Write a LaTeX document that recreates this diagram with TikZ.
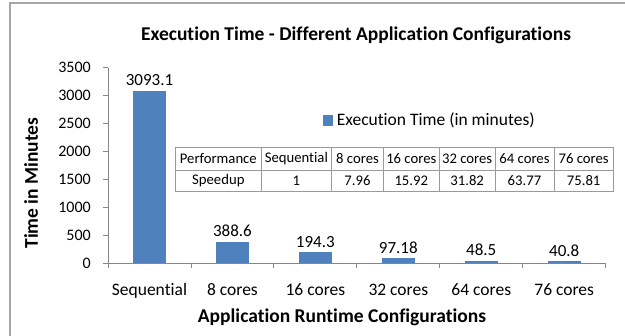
\documentclass[tikz,border=0pt]{standalone}
\usepackage{fontspec}
\setmainfont{Carlito}[Ligatures=NoCommon]
\definecolor{barblue}{HTML}{4F81BD}
\definecolor{axisgray}{HTML}{868686}
\definecolor{framegray}{HTML}{A6A6A6}
\definecolor{tablegray}{HTML}{9A9A9A}
\begin{document}
\begin{tikzpicture}[x=1pt,y=-1pt,
  frame/.style={draw=framegray,line width=1.6pt},
  axisline/.style={draw=axisgray,line width=0.9pt},
  tableline/.style={draw=tablegray,line width=0.8pt},
  bar/.style={fill=barblue},
  ticklab/.style={anchor=east,inner sep=0pt,font=\fontsize{16}{18}\selectfont},
  catlab/.style={anchor=base,inner sep=0pt,font=\fontsize{17.5}{19}\selectfont},
  vallab/.style={anchor=south,inner sep=0pt,font=\fontsize{17}{19}\selectfont},
  cell/.style={inner sep=0pt,font=\fontsize{14.7}{16}\selectfont},
  titlelab/.style={anchor=base,inner sep=0pt,font=\bfseries\fontsize{19.5}{21}\selectfont},
  axtitle/.style={inner sep=0pt,font=\bfseries\fontsize{19.5}{21}\selectfont}]
\useasboundingbox (0,0) rectangle (625,336);
\fill[white] (0,0) rectangle (625,336);
% frame (top and left edges visible)
\draw[frame] (10,336) -- (10,3) -- (625,3);
% title
\node[titlelab] (title) at (356,40.5) {Execution Time - Different Application Configurations};
% y axis
\draw[axisline] (108,67.8) -- (108,263.3);
\foreach \v/\yy [count=\i] in {0/263.3,500/235.4,1000/207.4,1500/179.5,2000/151.6,2500/123.6,3000/95.7,3500/67.8}{
  \draw[axisline] (103,\yy) -- (108,\yy);
  \node[ticklab] (tick\i) at (91,\yy) {\v};
}
% x axis
\draw[axisline] (108,263.3) -- (605.7,263.3);
\foreach \k in {0,...,6}{
  \draw[axisline] ({108+82.95*\k},263.3) -- ({108+82.95*\k},268.3);
}
% bars, value labels, category labels
\foreach \val/\lab/\cat [count=\i from 0] in {3093.1/3093.1/Sequential,388.6/388.6/8 cores,194.3/194.3/16 cores,97.18/97.18/32 cores,48.5/48.5/64 cores,40.8/40.8/76 cores}{
  \pgfmathsetmacro{\cx}{108+82.95*(\i+0.5)}
  \pgfmathsetmacro{\top}{263.3-\val*0.05586}
  \fill[bar] ({\cx-16.5},\top) rectangle ({\cx+16.5},263.3);
  \node[vallab] (val\i) at (\cx,{\top-4.5}) {\lab};
  \node[catlab] (cat\i) at (\cx,295.5) {\cat};
}
% axis titles
\node[axtitle,anchor=base] (xtitle) at (342,323) {Application Runtime Configurations};
\node[axtitle,rotate=90] (ytitle) at (31,183) {Time in Minutes};
% legend
\fill[bar] (322.7,115.3) rectangle (333.3,125.9);
\node[anchor=west,inner sep=0pt,font=\fontsize{17.5}{19}\selectfont] (legend) at (336.7,120.6) {Execution Time (in minutes)};
% table
\fill[white] (175.7,147.7) rectangle (613.3,191.7);
\draw[tableline] (175.7,147.7) rectangle (613.3,191.7);
\draw[tableline] (175.7,170) -- (613.3,170);
\foreach \xx in {261,331.7,383.3,439.3,495,554}{
  \draw[tableline] (\xx,147.7) -- (\xx,191.7);
}
\foreach \xa/\xb/\ta/\tb [count=\i] in {175.7/261/Performance/Speedup,261/331.7/Sequential/1,331.7/383.3/8 cores/7.96,383.3/439.3/16 cores/15.92,439.3/495/32 cores/31.82,495/554/64 cores/63.77,554/613.3/76 cores/75.81}{
  \node[cell] (h\i) at ({(\xa+\xb)/2},158.9) {\ta};
  \node[cell] (s\i) at ({(\xa+\xb)/2},180.9) {\tb};
}
\end{tikzpicture}
\end{document}
